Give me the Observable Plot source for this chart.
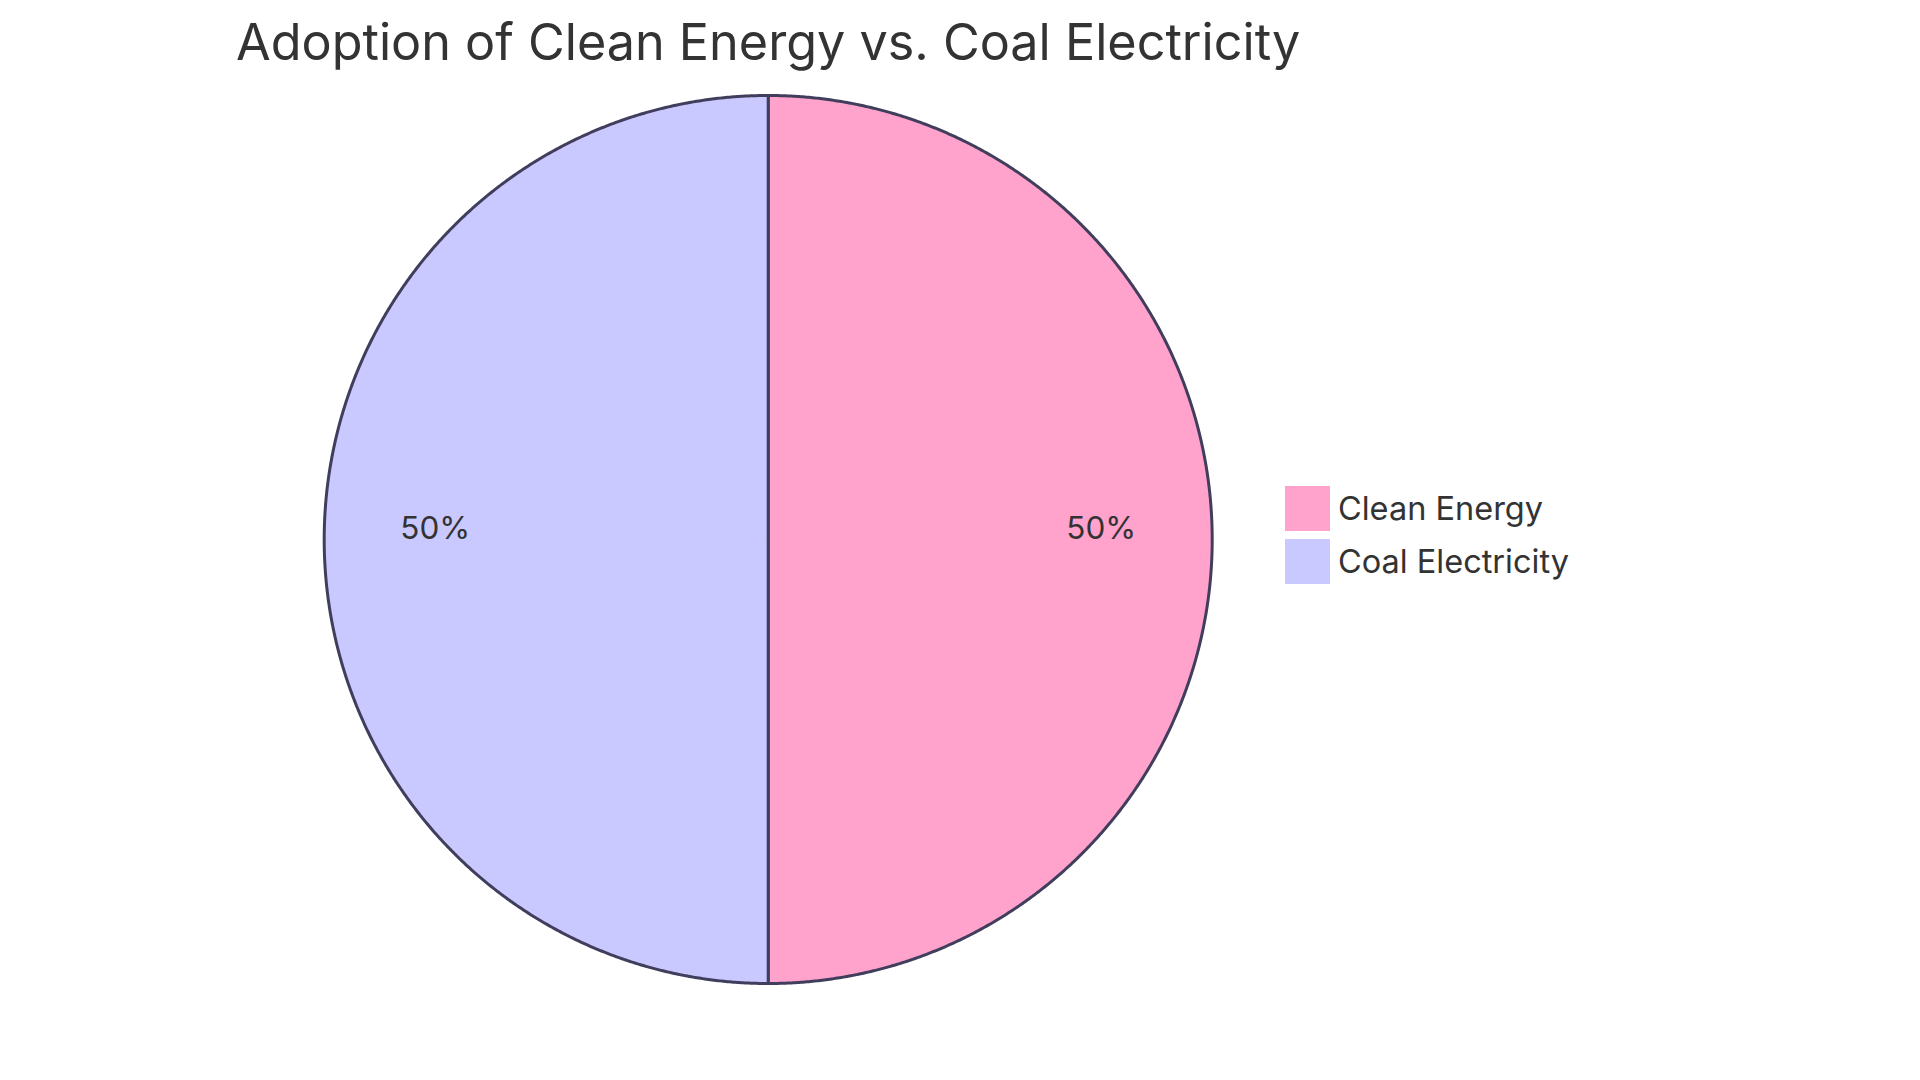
<!DOCTYPE html>
<html><head><meta charset="utf-8">
<script src="https://cdn.jsdelivr.net/npm/d3@7"></script>
<script src="https://cdn.jsdelivr.net/npm/@observablehq/plot@0.6"></script>
<style>
body{margin:0;background:#fff;}
#wrap{position:relative;width:1920px;height:1080px;overflow:hidden;font-family:Inter,"Noto Sans",sans-serif;color:#333;}
#title{position:absolute;left:236px;top:12px;font-size:50.3px;line-height:60px;white-space:nowrap;color:#333;}
#chart{position:absolute;left:0;top:0;}
.item{position:absolute;left:1285px;height:45px;display:flex;align-items:center;white-space:nowrap;}
.sw{width:45px;height:45px;box-sizing:border-box;margin-right:8px;}
.lab{font-size:32.5px;color:#333;}
</style></head><body>
<div id="wrap"><div id="chart"></div><div id="title"></div><div id="legend"></div></div>
<script>
const title = "Adoption of Clean Energy vs. Coal Electricity";
const categories = ["Clean Energy", "Coal Electricity"];
const values = [50, 50];
const colors = ["#FFA3CD", "#C9C9FF"];

const total = d3.sum(values);
const rows = categories.map((c, i) => ({category: c, value: values[i]}));
const arcs = d3.pie().sort(null).value(d => d.value)(rows);

const pts = [];
const labels = [];
for (const a of arcs) {
  const c = a.data.category;
  const n = Math.max(2, Math.ceil((a.endAngle - a.startAngle) / (Math.PI / 720)));
  pts.push({category: c, x: 0, y: 0});
  for (let k = 0; k <= n; k++) {
    const t = a.startAngle + (a.endAngle - a.startAngle) * k / n;
    pts.push({category: c, x: Math.sin(t), y: Math.cos(t)});
  }
  pts.push({category: c, x: 0, y: 0});
  const m = (a.startAngle + a.endAngle) / 2;
  labels.push({x: 0.75 * Math.sin(m), y: 0.75 * Math.cos(m), text: Math.round(a.data.value / total * 100) + "%"});
}

const chart = Plot.plot({
  width: 1920, height: 1080,
  marginLeft: 323.7, marginRight: 708.3, marginTop: 95, marginBottom: 97,
  x: {domain: [-1, 1], axis: null},
  y: {domain: [-1, 1], axis: null},
  color: {domain: categories, range: colors},
  style: {background: "transparent", fontFamily: "Inter, 'Noto Sans', sans-serif"},
  marks: [
    Plot.line(pts, {x: "x", y: "y", z: "category", fill: "category", stroke: "#403e5c", strokeWidth: 3, strokeLinejoin: "round"}),
    Plot.text(labels, {x: "x", y: "y", text: "text", fontSize: 31.5, fill: "#333", dy: -11})
  ]
});
document.getElementById("chart").appendChild(chart);
document.getElementById("title").textContent = title;

const legend = document.getElementById("legend");
categories.forEach((c, i) => {
  const it = document.createElement("div");
  it.className = "item";
  it.style.top = (486 + i * 53) + "px";
  const sw = document.createElement("div");
  sw.className = "sw";
  sw.style.background = colors[i];
  const lab = document.createElement("span");
  lab.className = "lab";
  lab.textContent = c;
  it.appendChild(sw); it.appendChild(lab);
  legend.appendChild(it);
});
</script></body></html>
